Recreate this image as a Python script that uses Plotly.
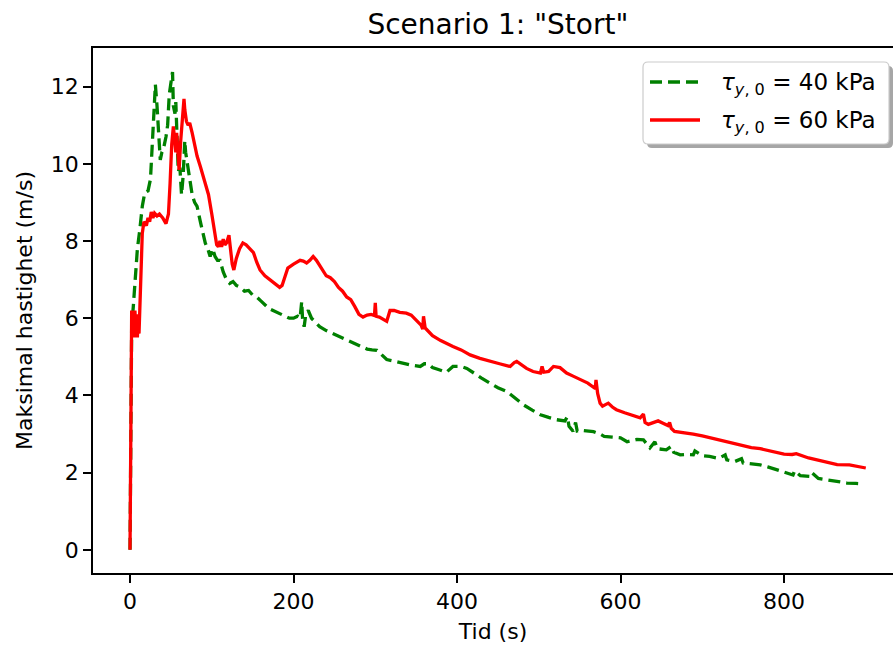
import plotly.graph_objects as go

# ---- data: tau_y,0 = 40 kPa (green dashed) ----
t40 = [0, 1, 2, 4, 6, 9, 12, 15, 18, 22, 25, 27, 28.5, 30, 31, 33, 35, 37, 39, 41,
       44, 46, 48, 50, 52, 53, 55, 56, 58, 59, 61, 63, 65, 67, 68, 70, 73, 76, 79, 82,
       86, 90, 92, 95, 98, 101, 104, 107, 110, 114, 118, 122, 126, 130, 135, 140, 145, 150, 155, 160,
       165, 170, 175, 180, 185, 190, 195, 200, 205, 208, 210, 211, 213, 215, 218, 222, 226, 232, 240, 250,
       260, 270, 280, 290, 296, 302, 308, 314, 325, 335, 345, 355, 360, 365, 370, 379, 387, 395, 400, 405,
       412, 420, 430, 440, 450, 461, 471, 481, 492, 502, 512, 522, 532, 535, 537, 542, 545, 547, 550, 558,
       567, 575, 580, 590, 600, 608, 620, 628, 633, 636, 642, 645, 656, 662, 665, 673, 680, 689, 691, 700,
       709, 720, 728, 730, 740, 748, 750, 760, 771, 780, 791, 800, 811, 813, 820, 832, 834, 842, 852, 865,
       877, 888, 897]
v40 = [0.0, 4.5, 5.8, 6.3, 7.0, 7.8, 8.3, 8.9, 9.25, 9.3, 9.6, 10.4, 11.4, 11.9, 12.05, 11.5, 10.6, 10.1, 10.3, 10.4,
       10.7, 11.0, 11.8, 12.1, 12.38, 11.5, 11.3, 11.6, 10.5, 9.8, 9.9, 9.2, 9.7, 10.6, 10.3, 10.0, 9.5, 9.2, 9.0, 8.9,
       8.5, 8.1, 7.95, 7.8, 7.6, 7.8, 7.6, 7.5, 7.5, 7.2, 7.0, 6.9, 6.95, 6.85, 6.8, 6.7, 6.72, 6.6, 6.55, 6.45,
       6.35, 6.25, 6.2, 6.15, 6.1, 6.05, 6.0, 6.0, 6.05, 6.0, 6.43, 6.0, 5.78, 6.1, 6.2, 6.0, 5.9, 5.78, 5.68, 5.58,
       5.48, 5.38, 5.28, 5.2, 5.18, 5.17, 5.05, 4.93, 4.88, 4.82, 4.78, 4.75, 4.82, 4.82, 4.72, 4.66, 4.6, 4.75, 4.76, 4.75,
       4.7, 4.58, 4.45, 4.32, 4.2, 4.1, 3.93, 3.76, 3.62, 3.5, 3.43, 3.37, 3.34, 3.45, 3.2, 3.07, 3.3, 3.08, 3.1, 3.08,
       3.06, 3.0, 2.94, 2.92, 2.9, 2.8, 2.86, 2.85, 2.7, 2.64, 2.8, 2.62, 2.59, 2.68, 2.53, 2.46, 2.47, 2.46, 2.56, 2.44,
       2.42, 2.37, 2.46, 2.33, 2.29, 2.36, 2.25, 2.22, 2.2, 2.15, 2.07, 2.0, 1.94, 2.05, 1.92, 1.9, 2.0, 1.85, 1.81, 1.77,
       1.73, 1.72, 1.71]

# ---- data: tau_y,0 = 60 kPa (red solid) ----
t60 = [0, 1, 2, 3, 4, 5, 6, 7, 8, 9, 10, 11, 12, 13, 14, 15, 17, 20, 22, 24,
       26, 28, 30, 33, 36, 40, 44, 47, 49, 51, 53, 55, 56, 57, 58, 59, 60, 62, 64, 66,
       67, 69, 71, 73, 76, 79, 82, 86, 89, 92, 96, 100, 104, 106, 108, 110, 112, 114, 116, 118,
       121, 123, 125, 127, 130, 134, 138, 142, 146, 151, 155, 159, 165, 171, 177, 183, 186, 188, 193, 200,
       208, 212, 216, 220, 224, 228, 235, 240, 245, 250, 255, 260, 265, 270, 275, 280, 285, 290, 295, 299,
       300, 301, 305, 310, 314, 318, 323, 330, 338, 344, 350, 356, 358, 359, 361, 370, 380, 387, 395, 405,
       416, 428, 440, 452, 465, 470, 473, 479, 485, 493, 502, 504, 506, 512, 518, 526, 534, 542, 550, 560,
       569, 570, 572, 575, 578, 582, 585, 590, 595, 605, 615, 624, 628, 630, 634, 640, 646, 652, 658, 660,
       662, 666, 675, 689, 700, 715, 730, 745, 760, 771, 785, 800, 810, 815, 830, 845, 855, 865, 880, 890,
       900]
v60 = [0.0, 3.0, 6.2, 5.6, 6.1, 5.5, 6.2, 5.6, 6.0, 5.5, 6.1, 5.6, 6.2, 6.8, 7.6, 8.2, 8.5, 8.4, 8.6, 8.5,
       8.75, 8.6, 8.72, 8.65, 8.7, 8.6, 8.45, 8.7, 9.5, 10.5, 10.97, 10.6, 10.3, 10.8, 10.45, 10.2, 9.84, 10.6, 11.2, 11.68,
       11.4, 11.1, 11.0, 11.06, 10.8, 10.5, 10.2, 9.93, 9.7, 9.5, 9.2, 8.7, 8.2, 7.9, 7.85, 8.0, 7.85, 8.05, 7.9, 7.95,
       8.15, 7.7, 7.4, 7.25, 7.55, 7.8, 7.95, 7.9, 7.8, 7.7, 7.45, 7.25, 7.1, 7.0, 6.9, 6.8, 6.85, 7.0, 7.3, 7.4,
       7.5, 7.48, 7.43, 7.5, 7.6, 7.5, 7.25, 7.1, 7.05, 6.95, 6.8, 6.7, 6.55, 6.48, 6.3, 6.1, 6.03, 6.08, 6.1, 6.07,
       6.4, 6.05, 6.03, 5.97, 5.92, 6.2, 6.2, 6.15, 6.13, 6.08, 5.96, 5.82, 5.72, 6.05, 5.75, 5.55, 5.42, 5.36, 5.27, 5.18,
       5.05, 4.96, 4.88, 4.82, 4.75, 4.85, 4.88, 4.8, 4.7, 4.62, 4.58, 4.75, 4.6, 4.62, 4.75, 4.72, 4.58, 4.5, 4.42, 4.32,
       4.18, 4.4, 4.05, 3.8, 3.72, 3.78, 3.8, 3.7, 3.63, 3.55, 3.48, 3.42, 3.52, 3.3, 3.25, 3.3, 3.34, 3.28, 3.22, 3.3,
       3.15, 3.07, 3.05, 3.0, 2.95, 2.87, 2.8, 2.72, 2.65, 2.62, 2.55, 2.48, 2.47, 2.49, 2.38, 2.3, 2.25, 2.21, 2.2, 2.16,
       2.12]

x_ticks = [0, 200, 400, 600, 800]
y_ticks = [0, 2, 4, 6, 8, 10, 12]

title_text = 'Scenario 1: "Stort"'
x_label = "Tid (s)"
y_label = "Maksimal hastighet (m/s)"
name40 = "<i>τ</i><sub><i>y</i>, 0</sub> = 40 kPa"
name60 = "<i>τ</i><sub><i>y</i>, 0</sub> = 60 kPa"

FONT = "DejaVu Sans"
GREEN = "#008000"
RED = "#ff0000"
DASH = "12px,6px"
LW = 3.3

# figure / plot-area geometry (pixels)
W, H = 893, 647
ML, MR, MT, MB = 93, 0, 48, 74
PW, PH = W - ML - MR, H - MT - MB


def px(x):
    return (x - ML) / PW


def py(y):
    return (H - MB - y) / PH


fig = go.Figure()
fig.add_trace(go.Scatter(x=t40, y=v40, mode="lines", name=name40,
                         line=dict(color=GREEN, width=LW, dash=DASH)))
fig.add_trace(go.Scatter(x=t60, y=v60, mode="lines", name=name60,
                         line=dict(color=RED, width=LW)))

axis_common = dict(
    showgrid=False, zeroline=False, showline=True, linecolor="black", linewidth=1.6,
    ticks="outside", ticklen=8, tickwidth=1.6, tickcolor="black",
    tickfont=dict(family=FONT, size=22, color="black"),
)


# ---- legend drawn as a matplotlib-style box (rounded, with shadow) ----
def rounded_rect(x0, y0, x1, y1, r):
    pts = [
        ("M", x0 + r, y0), ("L", x1 - r, y0), ("Q", x1, y0, x1, y0 + r),
        ("L", x1, y1 - r), ("Q", x1, y1, x1 - r, y1), ("L", x0 + r, y1),
        ("Q", x0, y1, x0, y1 - r), ("L", x0, y0 + r), ("Q", x0, y0, x0 + r, y0),
    ]
    out = []
    for p in pts:
        cmd = p[0]
        coords = p[1:]
        s = []
        for i in range(0, len(coords), 2):
            s.append(f"{px(coords[i]):.5f},{py(coords[i + 1]):.5f}")
        out.append(cmd + " ".join(s))
    return " ".join(out) + " Z"


LX0, LY0, LX1, LY1 = 643, 62, 889, 144
SH = 4
shapes = [
    dict(type="path", xref="paper", yref="paper", layer="above",
         path=rounded_rect(LX0 + SH, LY0 + SH, LX1 + SH, LY1 + SH, 5),
         fillcolor="rgba(77,77,77,0.5)", line=dict(width=0)),
    dict(type="path", xref="paper", yref="paper", layer="above",
         path=rounded_rect(LX0, LY0, LX1, LY1, 5),
         fillcolor="white", line=dict(color="#cccccc", width=1.2)),
    dict(type="line", xref="paper", yref="paper", layer="above",
         x0=px(650), x1=px(700), y0=py(82), y1=py(82),
         line=dict(color=GREEN, width=LW, dash=DASH)),
    dict(type="line", xref="paper", yref="paper", layer="above",
         x0=px(650), x1=px(700), y0=py(120), y1=py(120),
         line=dict(color=RED, width=LW)),
]
annotations = [
    dict(text=name40, xref="paper", yref="paper", x=px(719), y=py(84),
         xanchor="left", yanchor="middle", showarrow=False,
         font=dict(family=FONT, size=23, color="black")),
    dict(text=name60, xref="paper", yref="paper", x=px(719), y=py(122),
         xanchor="left", yanchor="middle", showarrow=False,
         font=dict(family=FONT, size=23, color="black")),
]

fig.update_layout(
    width=W, height=H,
    margin=dict(l=ML, r=MR, t=MT, b=MB),
    paper_bgcolor="white", plot_bgcolor="white",
    font=dict(family=FONT, size=22, color="black"),
    title=dict(text=title_text, x=0.5575, xanchor="center", y=0.963, yanchor="middle",
               font=dict(family=FONT, size=28, color="black")),
    xaxis=dict(range=[-45.3, 933.3], tickvals=x_ticks, mirror=True,
               title=dict(text=x_label, standoff=10, font=dict(family=FONT, size=22)),
               **axis_common),
    yaxis=dict(range=[-0.6, 13.0], tickvals=y_ticks, mirror=False,
               title=dict(text=y_label, standoff=12, font=dict(family=FONT, size=22)),
               **axis_common),
    showlegend=False,
    shapes=shapes,
    annotations=annotations,
)

fig.write_html("out.html")
